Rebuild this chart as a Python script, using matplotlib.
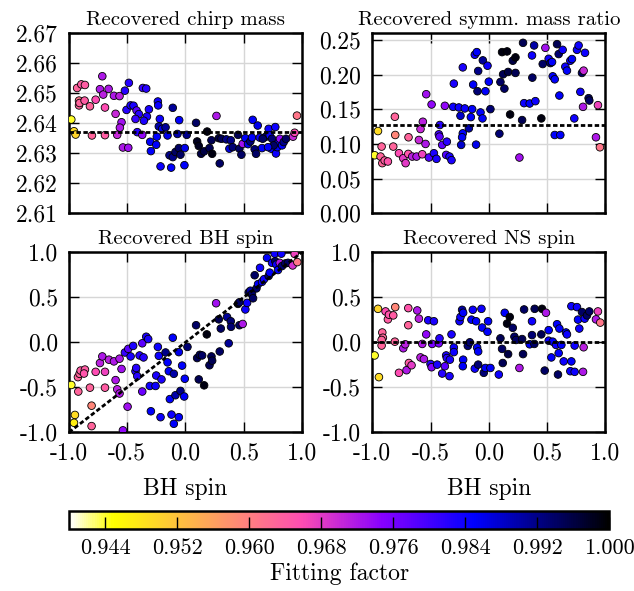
import matplotlib.pyplot as plt
from matplotlib.ticker import FormatStrFormatter

plt.rcParams['font.family'] = 'cmr10'
plt.rcParams['mathtext.fontset'] = 'cm'
plt.rcParams['axes.formatter.use_mathtext'] = True

# fitting-factor colour scale
ff_min, ff_max = 0.94, 1.0
cbar_ticks = [0.944, 0.952, 0.960, 0.968, 0.976, 0.984, 0.992, 1.000]

# true values (dashed lines)
true_mchirp = 2.637
true_eta = 0.1267
true_nsspin = 0.0

# recovered chirp mass vs injected BH spin
cm_x = [-0.98, -0.957, -0.943, -0.93, -0.894, -0.863, -0.914, -0.914, -0.909, -0.866,
        -0.82, -0.803, -0.771, -0.714, -0.734, -0.706, -0.66, -0.691, -0.691, -0.614,
        -0.566, -0.6, -0.549, -0.563, -0.586, -0.537, -0.491, -0.486, -0.52, -0.506,
        -0.471, -0.446, -0.42, -0.4, -0.429, -0.414, -0.371, -0.366, -0.337, -0.314,
        -0.331, -0.357, -0.303, -0.297, -0.237, -0.234, -0.22, -0.229, -0.2, -0.171,
        -0.154, -0.246, -0.251, -0.214, -0.123, -0.109, -0.054, -0.069, -0.137, -0.109,
        -0.086, -0.057, -0.043, -0.006, -0.009, 0.011, 0.091, 0.1, 0.114, 0.134,
        0.16, 0.186, 0.206, 0.223, 0.229, 0.266, 0.286, 0.294, 0.309, 0.351,
        0.377, 0.389, 0.406, 0.451, 0.463, 0.48, 0.491, 0.514, 0.537, 0.557,
        0.571, 0.577, 0.594, 0.606, 0.62, 0.637, 0.657, 0.686, 0.714, 0.723,
        0.737, 0.743, 0.771, 0.777, 0.789, 0.8, 0.811, 0.829, 0.843, 0.863,
        0.923, 0.937, 0.957, 0.757, 0.709, 0.663]
cm_y = [2.6412, 2.6373, 2.6362, 2.6517, 2.6529, 2.6527, 2.6475, 2.6459, 2.6467, 2.6475,
        2.6456, 2.6359, 2.6478, 2.6556, 2.6513, 2.6495, 2.6514, 2.6452, 2.6360, 2.6491,
        2.6490, 2.6431, 2.6403, 2.6385, 2.6361, 2.6319, 2.6318, 2.6534, 2.6508, 2.6444,
        2.6459, 2.6458, 2.6442, 2.6430, 2.6414, 2.6370, 2.6361, 2.6517, 2.6515, 2.6446,
        2.6422, 2.6408, 2.6338, 2.6307, 2.6472, 2.6459, 2.6414, 2.6389, 2.6381, 2.6386,
        2.6359, 2.6355, 2.6328, 2.6256, 2.6252, 2.6451, 2.6410, 2.6364, 2.6293, 2.6287,
        2.6304, 2.6317, 2.6295, 2.6317, 2.6260, 2.6361, 2.6401, 2.6339, 2.6324, 2.6298,
        2.6306, 2.6372, 2.6317, 2.6343, 2.6298, 2.6424, 2.6350, 2.6266, 2.6348, 2.6346,
        2.6315, 2.6343, 2.6320, 2.6361, 2.6315, 2.6295, 2.6331, 2.6350, 2.6330, 2.6339,
        2.6352, 2.6411, 2.6313, 2.6298, 2.6392, 2.6352, 2.6317, 2.6354, 2.6381, 2.6359,
        2.6315, 2.6348, 2.6387, 2.6299, 2.6320, 2.6337, 2.6348, 2.6326, 2.6337, 2.6348,
        2.6355, 2.6368, 2.6425, 2.6326, 2.6320, 2.6348]
cm_ff = [0.944, 0.949, 0.950, 0.963, 0.964, 0.964, 0.961, 0.963, 0.963, 0.964,
         0.963, 0.963, 0.966, 0.972, 0.972, 0.971, 0.972, 0.966, 0.964, 0.972,
         0.971, 0.970, 0.973, 0.972, 0.970, 0.972, 0.973, 0.982, 0.982, 0.982,
         0.983, 0.983, 0.978, 0.982, 0.981, 0.982, 0.974, 0.981, 0.982, 0.983,
         0.983, 0.983, 0.985, 0.985, 0.984, 0.984, 0.984, 0.990, 0.986, 0.991,
         0.986, 0.985, 0.985, 0.984, 0.985, 0.991, 0.985, 0.990, 0.992, 0.992,
         0.994, 0.994, 0.994, 0.986, 0.985, 0.992, 0.994, 0.998, 0.998, 0.996,
         0.996, 0.999, 0.995, 0.995, 0.999, 0.972, 0.996, 0.994, 0.995, 0.992,
         0.987, 0.992, 0.993, 0.995, 0.994, 0.994, 0.973, 0.985, 0.986, 0.993,
         0.985, 0.985, 0.993, 0.994, 0.986, 0.984, 0.985, 0.993, 0.984, 0.984,
         0.985, 0.993, 0.984, 0.984, 0.985, 0.985, 0.974, 0.985, 0.992, 0.994,
         0.970, 0.966, 0.961, 0.994, 0.985, 0.994]

# recovered symmetric mass ratio
eta_x = [-0.98, -0.951, -0.92, -0.929, -0.914, -0.894, -0.866, -0.82, -0.806, -0.803,
         -0.771, -0.734, -0.714, -0.689, -0.691, -0.657, -0.62, -0.6, -0.586, -0.566,
         -0.571, -0.543, -0.537, -0.514, -0.491, -0.471, -0.449, -0.429, -0.42, -0.423,
         -0.4, -0.377, -0.36, -0.366, -0.337, -0.32, -0.306, -0.3, -0.257, -0.243,
         -0.223, -0.206, -0.223, -0.229, -0.237, -0.171, -0.154, -0.143, -0.134, -0.12,
         -0.103, -0.109, -0.097, -0.091, -0.071, -0.054, -0.051, -0.029, -0.011, 0.0,
         0.014, 0.091, 0.1, 0.114, 0.123, 0.134, 0.157, 0.166, 0.183, 0.206,
         0.229, 0.229, 0.263, 0.286, 0.294, 0.303, 0.351, 0.371, 0.374, 0.389,
         0.4, 0.451, 0.463, 0.486, 0.514, 0.529, 0.543, 0.549, 0.566, 0.566,
         0.586, 0.6, 0.606, 0.614, 0.634, 0.657, 0.671, 0.7, 0.714, 0.734,
         0.757, 0.771, 0.786, 0.8, 0.814, 0.809, 0.826, 0.857, 0.863, 0.92,
         0.937, 0.954]
eta_y = [0.0837, 0.1186, 0.0962, 0.0818, 0.0723, 0.0761, 0.0747, 0.0962, 0.1392, 0.1129,
         0.0866, 0.0794, 0.0723, 0.1096, 0.0856, 0.0818, 0.0818, 0.1057, 0.1215, 0.1320,
         0.0851, 0.1000, 0.1717, 0.0804, 0.1569, 0.0866, 0.0785, 0.1139, 0.1273, 0.1105,
         0.0986, 0.1550, 0.1033, 0.0842, 0.0818, 0.0766, 0.1535, 0.1870, 0.1526, 0.1406,
         0.2104, 0.1512, 0.1153, 0.1096, 0.0986, 0.1225, 0.1387, 0.1502, 0.1856, 0.2286,
         0.2324, 0.0990, 0.1760, 0.2052, 0.1454, 0.1368, 0.2205, 0.1760, 0.2128, 0.1898,
         0.1502, 0.1148, 0.1893, 0.2324, 0.2004, 0.1798, 0.2334, 0.2038, 0.1425, 0.2200,
         0.2248, 0.2024, 0.0804, 0.1344, 0.2458, 0.1588, 0.1583, 0.2276, 0.1956, 0.2420,
         0.1617, 0.1368, 0.2152, 0.2386, 0.2228, 0.2166, 0.2181, 0.1975, 0.1932, 0.1129,
         0.2439, 0.2296, 0.1698, 0.1129, 0.2357, 0.2114, 0.2057, 0.2200, 0.2224, 0.1368,
         0.2357, 0.2420, 0.1751, 0.2024, 0.2057, 0.1535, 0.2314, 0.1660, 0.1626, 0.1096,
         0.1559, 0.0952]
eta_ff = [0.944, 0.949, 0.963, 0.963, 0.963, 0.964, 0.965, 0.963, 0.963, 0.959,
          0.966, 0.968, 0.968, 0.963, 0.965, 0.971, 0.972, 0.970, 0.970, 0.971,
          0.967, 0.972, 0.973, 0.979, 0.974, 0.983, 0.983, 0.980, 0.982, 0.978,
          0.978, 0.974, 0.982, 0.979, 0.983, 0.983, 0.984, 0.983, 0.984, 0.988,
          0.983, 0.984, 0.985, 0.985, 0.988, 0.990, 0.985, 0.985, 0.985, 0.984,
          0.985, 0.986, 0.993, 0.992, 0.985, 0.985, 0.991, 0.985, 0.984, 0.985,
          0.993, 0.993, 0.994, 0.999, 0.995, 0.994, 0.999, 0.996, 0.999, 0.996,
          0.999, 0.995, 0.973, 0.995, 0.995, 0.984, 0.985, 0.984, 0.994, 0.990,
          0.984, 0.999, 0.994, 0.973, 0.984, 0.993, 0.985, 0.985, 0.985, 0.985,
          0.995, 0.993, 0.985, 0.985, 0.984, 0.984, 0.985, 0.984, 0.985, 0.984,
          0.984, 0.984, 0.984, 0.994, 0.970, 0.972, 0.984, 0.994, 0.994, 0.972,
          0.967, 0.961]

# recovered BH spin
bh_x = [-0.98, -0.949, -0.957, -0.92, -0.923, -0.909, -0.9, -0.863, -0.871, -0.82,
        -0.806, -0.806, -0.771, -0.734, -0.714, -0.691, -0.691, -0.657, -0.614, -0.6,
        -0.586, -0.566, -0.566, -0.549, -0.537, -0.52, -0.491, -0.497, -0.471, -0.449,
        -0.429, -0.423, -0.414, -0.394, -0.371, -0.371, -0.36, -0.337, -0.32, -0.306,
        -0.297, -0.257, -0.251, -0.237, -0.229, -0.214, -0.206, -0.171, -0.154, -0.143,
        -0.134, -0.12, -0.109, -0.1, -0.1, -0.086, -0.057, -0.043, -0.057, -0.029,
        -0.011, -0.006, 0.017, 0.091, 0.1, 0.114, 0.123, 0.143, 0.16, 0.183,
        0.206, 0.223, 0.229, 0.263, 0.286, 0.294, 0.303, 0.357, 0.371, 0.389,
        0.391, 0.451, 0.463, 0.463, 0.491, 0.514, 0.529, 0.543, 0.557, 0.571,
        0.58, 0.594, 0.609, 0.623, 0.64, 0.657, 0.674, 0.7, 0.714, 0.723,
        0.743, 0.766, 0.771, 0.78, 0.794, 0.809, 0.823, 0.829, 0.857, 0.88,
        0.92, 0.937, 0.96]
bh_y = [-0.474, -0.807, -0.894, -0.547, -0.387, -0.350, -0.314, -0.303, -0.347, -0.504,
        -0.704, -0.931, -0.328, -0.230, -0.157, -0.328, -0.504, -0.193, -0.212, -0.420,
        -0.522, -0.182, -0.569, -0.296, -0.978, -0.113, -0.073, -0.715, -0.157, -0.040,
        -0.321, -0.285, -0.376, -0.146, -0.011, -0.547, -0.168, 0.062, 0.036, -0.485,
        -0.766, -0.485, -0.369, -0.051, -0.150, -0.832, -0.412, -0.113, -0.223, -0.321,
        -0.631, -0.803, 0.051, -0.350, -0.905, -0.588, -0.109, -0.540, -0.832, -0.259,
        -0.602, -0.405, -0.051, 0.190, -0.175, -0.412, -0.139, -0.146, -0.478, 0.088,
        -0.255, -0.157, -0.204, 0.434, 0.255, -0.102, 0.153, 0.281, -0.011, 0.234,
        0.172, 0.427, 0.445, 0.190, 0.204, 0.365, 0.438, 0.555, 0.573, 0.536,
        0.489, 0.745, 0.599, 0.646, 0.828, 0.672, 0.701, 0.938, 0.737, 0.774,
        0.883, 0.985, 0.901, 0.865, 0.803, 0.883, 0.985, 0.847, 0.876, 0.883,
        0.854, 0.982, 0.891]
bh_ff = [0.944, 0.949, 0.947, 0.963, 0.963, 0.963, 0.964, 0.964, 0.965, 0.963,
         0.959, 0.963, 0.966, 0.971, 0.972, 0.967, 0.964, 0.971, 0.972, 0.972,
         0.971, 0.972, 0.972, 0.973, 0.974, 0.981, 0.978, 0.973, 0.983, 0.983,
         0.982, 0.982, 0.982, 0.982, 0.978, 0.977, 0.982, 0.983, 0.983, 0.984,
         0.985, 0.984, 0.983, 0.984, 0.984, 0.984, 0.983, 0.992, 0.985, 0.985,
         0.985, 0.984, 0.985, 0.990, 0.985, 0.990, 0.986, 0.992, 0.985, 0.985,
         0.985, 0.985, 0.993, 0.994, 0.995, 0.995, 0.995, 0.994, 0.999, 0.999,
         0.995, 0.995, 0.995, 0.973, 0.995, 0.994, 0.994, 0.991, 0.991, 0.993,
         0.993, 0.999, 0.994, 0.994, 0.972, 0.984, 0.984, 0.994, 0.990, 0.994,
         0.994, 0.994, 0.994, 0.985, 0.984, 0.984, 0.984, 0.985, 0.993, 0.985,
         0.984, 0.984, 0.994, 0.984, 0.985, 0.972, 0.984, 0.993, 0.994, 0.994,
         0.969, 0.967, 0.961]

# recovered NS spin
ns_x = [-0.98, -0.943, -0.951, -0.914, -0.909, -0.92, -0.92, -0.886, -0.866, -0.857,
        -0.82, -0.803, -0.806, -0.771, -0.734, -0.717, -0.706, -0.691, -0.691, -0.686,
        -0.663, -0.614, -0.6, -0.586, -0.571, -0.557, -0.537, -0.52, -0.5, -0.491,
        -0.486, -0.471, -0.443, -0.429, -0.423, -0.4, -0.377, -0.366, -0.36, -0.337,
        -0.334, -0.32, -0.3, -0.3, -0.251, -0.243, -0.229, -0.22, -0.22, -0.223,
        -0.18, -0.163, -0.149, -0.137, -0.12, -0.109, -0.1, -0.091, -0.091, -0.063,
        -0.057, -0.043, -0.029, -0.011, -0.006, 0.014, 0.086, 0.1, 0.114, 0.12,
        0.137, 0.166, 0.157, 0.18, 0.206, 0.22, 0.234, 0.263, 0.286, 0.294,
        0.303, 0.351, 0.371, 0.371, 0.394, 0.391, 0.451, 0.457, 0.48, 0.491,
        0.514, 0.514, 0.537, 0.549, 0.577, 0.586, 0.594, 0.6, 0.606, 0.623,
        0.643, 0.663, 0.671, 0.7, 0.709, 0.709, 0.737, 0.737, 0.757, 0.766,
        0.777, 0.8, 0.809, 0.814, 0.823, 0.843, 0.863, 0.92, 0.937, 0.957]
ns_y = [-0.146, -0.387, 0.372, 0.109, 0.051, 0.026, -0.036, 0.343, 0.255, 0.307,
        0.299, 0.391, 0.007, -0.339, -0.066, -0.022, -0.310, 0.380, 0.190, -0.230,
        -0.255, 0.354, 0.263, -0.168, -0.018, -0.186, 0.088, 0.245, -0.241, -0.277,
        -0.018, 0.234, -0.248, -0.011, 0.044, -0.347, -0.266, -0.146, -0.175, -0.376,
        -0.193, 0.088, -0.058, -0.109, 0.234, 0.281, 0.361, 0.328, -0.193, -0.266,
        -0.040, 0.000, 0.252, 0.361, -0.292, 0.234, -0.058, -0.102, -0.248, 0.372,
        0.164, -0.339, -0.285, 0.117, 0.234, -0.285, -0.358, 0.044, -0.073, -0.230,
        0.328, -0.131, 0.208, 0.281, 0.161, 0.062, 0.026, -0.285, 0.036, -0.131,
        0.365, -0.022, 0.234, 0.080, 0.372, -0.018, 0.088, 0.372, -0.314, 0.328,
        0.135, 0.018, -0.168, 0.007, -0.029, 0.201, -0.358, -0.120, 0.153, -0.029,
        -0.212, 0.109, 0.088, -0.321, -0.212, 0.401, -0.328, -0.036, 0.391, 0.252,
        0.153, 0.336, -0.328, -0.055, 0.263, 0.299, 0.343, 0.255, 0.343, 0.219]
ns_ff = [0.944, 0.949, 0.950, 0.963, 0.963, 0.963, 0.963, 0.966, 0.964, 0.965,
         0.964, 0.959, 0.963, 0.966, 0.972, 0.971, 0.972, 0.965, 0.963, 0.964,
         0.968, 0.972, 0.971, 0.971, 0.972, 0.972, 0.974, 0.983, 0.982, 0.975,
         0.976, 0.983, 0.983, 0.976, 0.982, 0.982, 0.978, 0.983, 0.982, 0.983,
         0.983, 0.983, 0.984, 0.984, 0.984, 0.984, 0.990, 0.985, 0.985, 0.985,
         0.993, 0.993, 0.985, 0.984, 0.984, 0.985, 0.985, 0.985, 0.993, 0.984,
         0.985, 0.993, 0.985, 0.985, 0.985, 0.985, 0.984, 0.995, 0.994, 0.995,
         0.985, 0.996, 0.999, 0.999, 0.994, 0.994, 0.994, 0.972, 0.995, 0.995,
         0.994, 0.985, 0.984, 0.993, 0.995, 0.994, 0.995, 0.999, 0.994, 0.972,
         0.985, 0.984, 0.985, 0.985, 0.984, 0.985, 0.994, 0.985, 0.985, 0.985,
         0.984, 0.985, 0.984, 0.984, 0.985, 0.984, 0.984, 0.984, 0.984, 0.985,
         0.984, 0.994, 0.972, 0.971, 0.984, 0.994, 0.994, 0.972, 0.967, 0.961]

fig = plt.figure(figsize=(6.34, 5.91), dpi=100)
ax_cm = fig.add_axes([0.1088, 0.6391, 0.3675, 0.3051])
ax_eta = fig.add_axes([0.5872, 0.6391, 0.3675, 0.3051])
ax_bh = fig.add_axes([0.1088, 0.2685, 0.3675, 0.3046])
ax_ns = fig.add_axes([0.5872, 0.2685, 0.3675, 0.3046])

dash = (0, (1.6, 0.9))
sc_kw = dict(cmap='gnuplot2_r', vmin=ff_min, vmax=ff_max, s=30,
             edgecolors='black', linewidths=0.6, zorder=3)


def style(ax, title, ylim, yticks, yfmt, xlabels):
    ax.set_xlim(-1, 1)
    ax.set_ylim(*ylim)
    ax.set_xticks([-1.0, -0.5, 0.0, 0.5, 1.0])
    ax.set_yticks(yticks)
    ax.yaxis.set_major_formatter(FormatStrFormatter(yfmt))
    ax.xaxis.set_major_formatter(FormatStrFormatter('%.1f'))
    ax.grid(True, color='#d6d6d6', linewidth=1.0)
    ax.set_axisbelow(True)
    ax.tick_params(direction='in', length=7, width=1, top=True, right=True,
                   labelsize=17, labelbottom=xlabels)
    ax.tick_params(axis='y', pad=8)
    ax.tick_params(axis='x', pad=7)
    for sp in ax.spines.values():
        sp.set_linewidth(1.8)
    ax.set_title(title, fontsize=15, pad=6)
    if xlabels:
        ax.set_xlabel('BH spin', fontsize=17, labelpad=10)


sc = ax_cm.scatter(cm_x, cm_y, c=cm_ff, **sc_kw)
ax_cm.axhline(true_mchirp, color='black', lw=2, ls=dash, zorder=4)
style(ax_cm, 'Recovered chirp mass', (2.61, 2.67),
      [2.61, 2.62, 2.63, 2.64, 2.65, 2.66, 2.67], '%.2f', False)

ax_eta.scatter(eta_x, eta_y, c=eta_ff, **sc_kw)
ax_eta.axhline(true_eta, color='black', lw=2, ls=dash, zorder=4)
style(ax_eta, 'Recovered symm. mass ratio', (0.0, 0.26),
      [0.0, 0.05, 0.10, 0.15, 0.20, 0.25], '%.2f', False)

ax_bh.scatter(bh_x, bh_y, c=bh_ff, **sc_kw)
ax_bh.plot([-1, 1], [-1, 1], color='black', lw=2, ls=dash, zorder=4)
style(ax_bh, 'Recovered BH spin', (-1, 1),
      [-1.0, -0.5, 0.0, 0.5, 1.0], '%.1f', True)

ax_ns.scatter(ns_x, ns_y, c=ns_ff, **sc_kw)
ax_ns.axhline(true_nsspin, color='black', lw=2, ls=dash, zorder=4)
style(ax_ns, 'Recovered NS spin', (-1, 1),
      [-1.0, -0.5, 0.0, 0.5, 1.0], '%.1f', True)

cax = fig.add_axes([0.1093, 0.1054, 0.8517, 0.0308])
cb = fig.colorbar(sc, cax=cax, orientation='horizontal', ticks=cbar_ticks)
cb.ax.xaxis.set_major_formatter(FormatStrFormatter('%.3f'))
cb.ax.tick_params(direction='in', length=9, width=1, labelsize=16, pad=7)
cb.outline.set_linewidth(1.8)
cb.set_label('Fitting factor', fontsize=17, labelpad=3)

fig.savefig('out.png', dpi=100)
